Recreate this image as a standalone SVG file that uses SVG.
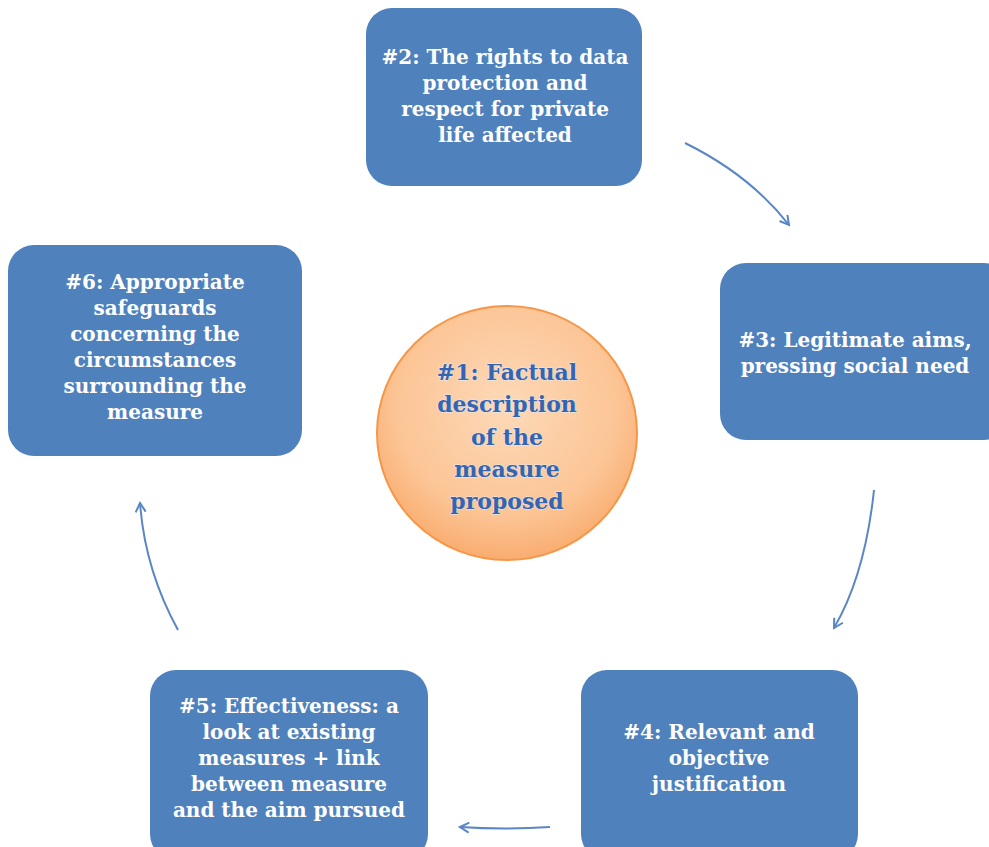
<svg xmlns="http://www.w3.org/2000/svg" width="989" height="847" viewBox="0 0 989 847">
<style>
.box{fill:#4f81bd;}
.bt{font-family:"DejaVu Serif","Liberation Serif",serif;font-weight:bold;font-size:20px;fill:#ffffff;text-anchor:middle;}
.ct{font-family:"DejaVu Serif","Liberation Serif",serif;font-weight:bold;font-size:22px;fill:#3564b0;text-anchor:middle;stroke:#e4ecf7;stroke-width:0.8px;paint-order:stroke;}
.conn{fill:none;stroke:#5b86c6;stroke-width:2;marker-end:url(#ah);}
</style>
<defs>
<radialGradient id="cg" cx="0.5" cy="0.4" r="0.6">
<stop offset="0" stop-color="#fdd9b8"/>
<stop offset="0.7" stop-color="#fcc596"/>
<stop offset="1" stop-color="#f9ad70"/>
</radialGradient>
<marker id="ah" viewBox="0 0 12 12" refX="10" refY="6" markerWidth="12" markerHeight="12" markerUnits="userSpaceOnUse" orient="auto">
<path d="M1,1 L10,6 L1,11" fill="none" stroke="#5b86c6" stroke-width="2"/>
</marker>
</defs>
<rect width="989" height="847" fill="#ffffff"/>
<g id="connectors">
<path class="conn" d="M685,143 Q750,175 789,225"/>
<path class="conn" d="M874,490 Q865,575 834,628"/>
<path class="conn" d="M550,827 Q505,830 460,827"/>
<path class="conn" d="M178,630 Q145,570 140,503"/>
</g>
<g id="node1">
<ellipse cx="507" cy="433" rx="130" ry="127" fill="url(#cg)" stroke="#f79646" stroke-width="2"/>
<text class="ct" x="507" y="380">#1: Factual</text>
<text class="ct" x="507" y="412">description</text>
<text class="ct" x="507" y="445">of the</text>
<text class="ct" x="507" y="477">measure</text>
<text class="ct" x="507" y="509">proposed</text>
</g>
<g id="node2">
<rect class="box" x="366" y="8" width="276" height="178" rx="26"/>
<text class="bt" x="505" y="64">#2: The rights to data</text>
<text class="bt" x="505" y="90">protection and</text>
<text class="bt" x="505" y="116">respect for private</text>
<text class="bt" x="505" y="142">life affected</text>
</g>
<g id="node3">
<rect class="box" x="720" y="263" width="290" height="177" rx="26"/>
<text class="bt" x="855" y="347">#3: Legitimate aims,</text>
<text class="bt" x="855" y="373">pressing social need</text>
</g>
<g id="node4">
<rect class="box" x="581" y="670" width="277" height="190" rx="26"/>
<text class="bt" x="719" y="739">#4: Relevant and</text>
<text class="bt" x="719" y="765">objective</text>
<text class="bt" x="719" y="791">justification</text>
</g>
<g id="node5">
<rect class="box" x="150" y="670" width="278" height="190" rx="26"/>
<text class="bt" x="289" y="713">#5: Effectiveness: a</text>
<text class="bt" x="289" y="739">look at existing</text>
<text class="bt" x="289" y="765">measures + link</text>
<text class="bt" x="289" y="791">between measure</text>
<text class="bt" x="289" y="817">and the aim pursued</text>
</g>
<g id="node6">
<rect class="box" x="8" y="245" width="294" height="211" rx="26"/>
<text class="bt" x="155" y="289">#6: Appropriate</text>
<text class="bt" x="155" y="315">safeguards</text>
<text class="bt" x="155" y="341">concerning the</text>
<text class="bt" x="155" y="367">circumstances</text>
<text class="bt" x="155" y="393">surrounding the</text>
<text class="bt" x="155" y="419">measure</text>
</g>
</svg>
